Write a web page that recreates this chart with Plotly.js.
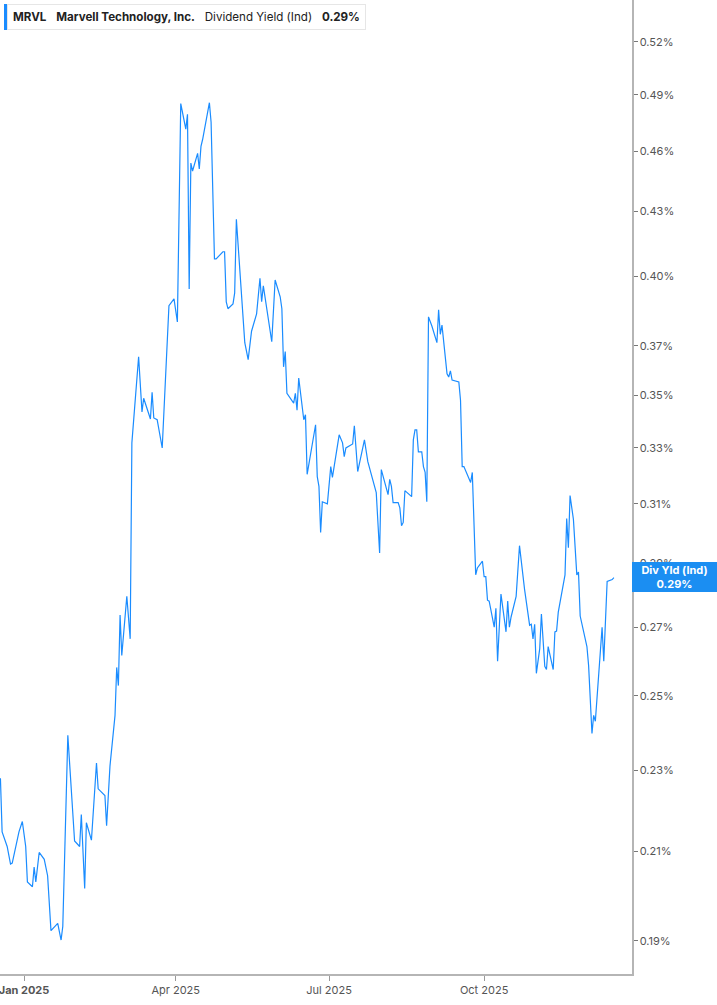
<!DOCTYPE html>
<html>
<head>
<meta charset="utf-8">
<script src="https://cdn.plot.ly/plotly-3.0.1.min.js"></script>
<style>
html,body{margin:0;padding:0;background:#fff;}
#chart{width:717px;height:1005px;}
</style>
</head>
<body>
<div id="chart"></div>
<script>
// Dividend yield (Ind), percent
const dates = [
 '2024-12-18','2024-12-19','2024-12-22','2024-12-24','2024-12-25','2024-12-27','2024-12-29','2024-12-31',
 '2025-01-02','2025-01-03','2025-01-06','2025-01-07','2025-01-08','2025-01-10','2025-01-13','2025-01-15',
 '2025-01-17','2025-01-21','2025-01-23','2025-01-24','2025-01-27','2025-01-31',
 '2025-02-03','2025-02-04','2025-02-06','2025-02-07','2025-02-10','2025-02-13','2025-02-14','2025-02-18',
 '2025-02-19','2025-02-21','2025-02-24','2025-02-25','2025-02-26','2025-02-27','2025-02-28',
 '2025-03-03','2025-03-05','2025-03-06','2025-03-10','2025-03-12','2025-03-13','2025-03-17','2025-03-18',
 '2025-03-19','2025-03-21','2025-03-24','2025-03-26','2025-03-28','2025-03-31',
 '2025-04-02','2025-04-04','2025-04-07','2025-04-08','2025-04-09','2025-04-10','2025-04-11','2025-04-14',
 '2025-04-15','2025-04-16','2025-04-17','2025-04-21','2025-04-22','2025-04-24','2025-04-25','2025-04-29','2025-04-30',
 '2025-05-01','2025-05-02','2025-05-05','2025-05-06','2025-05-07','2025-05-12','2025-05-14','2025-05-16',
 '2025-05-19','2025-05-21','2025-05-22','2025-05-23','2025-05-28','2025-05-30',
 '2025-06-02','2025-06-03','2025-06-04','2025-06-05','2025-06-06','2025-06-10','2025-06-11','2025-06-12',
 '2025-06-13','2025-06-16','2025-06-17','2025-06-18','2025-06-23','2025-06-24','2025-06-25','2025-06-26',
 '2025-06-27','2025-06-30',
 '2025-07-02','2025-07-03','2025-07-07','2025-07-09','2025-07-10','2025-07-11','2025-07-15','2025-07-16',
 '2025-07-18','2025-07-22','2025-07-24','2025-07-25','2025-07-29','2025-07-31',
 '2025-08-01','2025-08-05','2025-08-06','2025-08-07','2025-08-08','2025-08-11','2025-08-12','2025-08-13',
 '2025-08-14','2025-08-15','2025-08-19','2025-08-20','2025-08-21','2025-08-22','2025-08-23','2025-08-25',
 '2025-08-26','2025-08-27','2025-08-28','2025-08-29','2025-08-31',
 '2025-09-03','2025-09-04','2025-09-05','2025-09-06','2025-09-09','2025-09-10','2025-09-11','2025-09-12',
 '2025-09-16','2025-09-17','2025-09-18','2025-09-19','2025-09-23','2025-09-24','2025-09-26','2025-09-27','2025-09-30',
 '2025-10-01','2025-10-02','2025-10-03','2025-10-04','2025-10-07','2025-10-08','2025-10-09','2025-10-11',
 '2025-10-14','2025-10-15','2025-10-16','2025-10-17','2025-10-20','2025-10-22','2025-10-25','2025-10-28',
 '2025-10-29','2025-10-30','2025-10-31',
 '2025-11-01','2025-11-03','2025-11-04','2025-11-06','2025-11-07','2025-11-08','2025-11-11','2025-11-12',
 '2025-11-13','2025-11-14','2025-11-18','2025-11-19','2025-11-20','2025-11-21','2025-11-23','2025-11-25',
 '2025-11-26','2025-11-27',
 '2025-12-01','2025-12-02','2025-12-04','2025-12-05','2025-12-06','2025-12-10','2025-12-11','2025-12-13',
 '2025-12-16','2025-12-17'
];
const yields = [
 0.2280,0.2147,0.2112,0.2071,0.2073,0.2112,0.2147,0.2172,
 0.2112,0.2030,0.2019,0.2064,0.2030,0.2098,0.2082,0.2044,
 0.1922,0.1938,0.1902,0.1931,0.2392,0.2125,
 0.2112,0.2189,0.2015,0.2169,0.2127,0.2319,0.2253,0.2236,
 0.2162,0.2311,0.2446,0.2581,0.2529,0.2737,0.2616,
 0.2795,0.2665,0.3319,0.3655,0.3436,0.3489,0.3409,0.3512,
 0.3413,0.3406,0.3300,0.3590,0.3870,0.3900,
 0.3800,0.4853,0.4716,0.4795,0.3943,0.4540,0.4500,0.4590,
 0.4510,0.4626,0.4663,0.4858,0.4753,0.4078,0.4078,0.4111,0.4111,
 0.3887,0.3857,0.3878,0.3926,0.4263,0.3713,0.3643,0.3761,
 0.3835,0.3991,0.3887,0.3957,0.3717,0.3983,
 0.3909,0.3857,0.3614,0.3676,0.3508,0.3470,0.3508,0.3443,
 0.3569,0.3406,0.3425,0.3204,0.3387,0.3196,0.3161,0.3002,
 0.3107,0.3100,
 0.3232,0.3193,0.3349,0.3319,0.3268,0.3300,0.3315,0.3383,
 0.3214,0.3330,0.3250,0.3229,0.3139,0.2934,
 0.3221,0.3132,0.3186,0.3161,0.3104,0.3104,0.3086,0.3025,
 0.3036,0.3146,0.3125,0.3330,0.3368,0.3368,0.3286,0.3286,
 0.3232,0.3211,0.3107,0.3822,0.3783,
 0.3713,0.3852,0.3748,0.3787,0.3586,0.3573,0.3598,0.3561,
 0.3553,0.3481,0.3232,0.3232,0.3175,0.3211,0.2863,0.2885,0.2907,
 0.2857,0.2857,0.2783,0.2780,0.2700,0.2758,0.2599,0.2802,
 0.2686,0.2780,0.2700,0.2731,0.2795,0.2958,0.2817,0.2706,
 0.2709,0.2665,0.2709,
 0.2564,0.2636,0.2740,0.2584,0.2575,0.2642,0.2575,0.2686,
 0.2688,0.2746,0.2863,0.3049,0.2951,0.3129,0.3046,0.2863,
 0.2872,0.2734,
 0.2642,0.2587,0.2397,0.2446,0.2430,0.2700,0.2599,0.2842,
 0.2848,0.2854
];
const yTickVals = [0.19,0.21,0.23,0.25,0.27,0.29,0.31,0.33,0.35,0.37,0.40,0.43,0.46,0.49,0.52];
const yTickText = yTickVals.map(v => v.toFixed(2) + '%');
const xTickVals = ['2025-01-01','2025-04-01','2025-07-01','2025-10-01'];
const xTickText = ['<b>Jan 2025</b>','Apr 2025','Jul 2025','Oct 2025'];
const lastValue = 0.2855;

const lineColor = '#1a8cff';
const FONT = 'Inter, "Noto Sans", Roboto, sans-serif';

const trace = {
  x: dates, y: yields, type: 'scatter', mode: 'lines',
  line: {color: lineColor, width: 1.2}, hoverinfo: 'skip'
};

const layout = {
  width: 717, height: 1005,
  margin: {l: 0, r: 85, t: 0, b: 31, pad: 0},
  paper_bgcolor: '#ffffff', plot_bgcolor: '#ffffff',
  showlegend: false,
  font: {family: FONT, size: 11, color: '#555'},
  xaxis: {
    type: 'date',
    range: ['2024-12-17 18:00', '2025-12-27 18:00'],
    tickvals: xTickVals, ticktext: xTickText,
    ticks: 'outside', ticklen: 5, tickcolor: '#999', tickwidth: 1,
    ticklabeloverflow: 'allow',
    showgrid: false, zeroline: false,
    showline: true, linecolor: '#b5b5b5', linewidth: 1.5,
    tickfont: {family: FONT, size: 11, color: '#555'},
    fixedrange: true
  },
  yaxis: {
    type: 'log', side: 'right',
    range: [Math.log10(0.1831), Math.log10(0.545)],
    tickvals: yTickVals, ticktext: yTickText,
    ticks: 'outside', ticklen: 4, tickcolor: '#777', tickwidth: 1,
    showgrid: false, zeroline: false,
    showline: true, linecolor: '#b5b5b5', linewidth: 1.5,
    tickfont: {family: FONT, size: 11, color: '#555'},
    fixedrange: true
  },
  shapes: [
    {type: 'rect', xref: 'paper', yref: 'paper', layer: 'above',
     x0: 4/632, x1: 7/632, y0: 1 - 30/974, y1: 1 - 4/974,
     fillcolor: lineColor, line: {width: 0}}
  ],
  annotations: [
    {xref: 'paper', yref: 'paper', x: 7/632, y: 1 - 4/974, xanchor: 'left', yanchor: 'top',
     showarrow: false, align: 'left',
     text: '<b>MRVL</b>\u00a0\u00a0\u00a0<b>Marvell Technology, Inc.</b>\u00a0\u00a0\u00a0Dividend Yield (Ind)\u00a0\u00a0\u00a0<b>0.29%</b>',
     font: {family: FONT, size: 11.6, color: '#222'},
     bgcolor: '#ffffff', bordercolor: '#e6e6e6', borderwidth: 1, borderpad: 5},
    {xref: 'paper', yref: 'y', x: 1, y: Math.log10(lastValue), xanchor: 'left', yanchor: 'middle',
     showarrow: false, align: 'center', width: 83, height: 28,
     text: '<b>Div Yld (Ind)</b><br><b>0.29%</b>',
     font: {family: FONT, size: 11, color: '#ffffff'},
     bgcolor: '#1b8ef2', borderpad: 1, borderwidth: 0}
  ]
};

Plotly.newPlot('chart', [trace], layout, {staticPlot: true, displayModeBar: false});
</script>
</body>
</html>
